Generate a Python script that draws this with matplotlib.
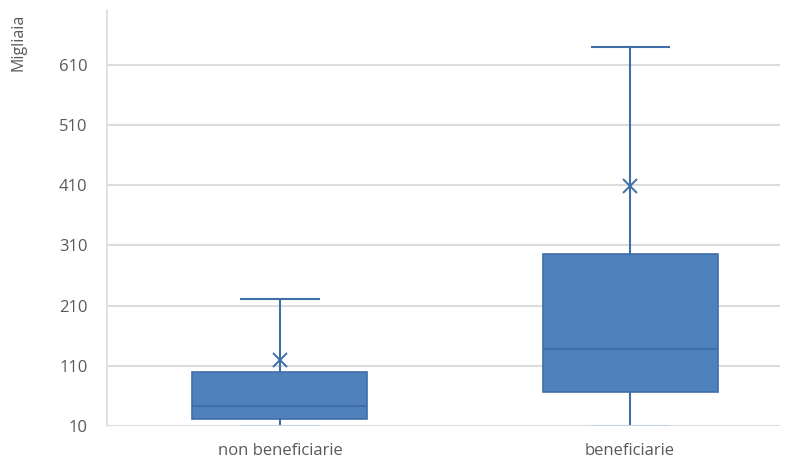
import matplotlib.pyplot as plt

# --- Data (thousands) ---
categories = ["non beneficiarie", "beneficiarie"]
whisker_low = [10, 10]
q1 = [22, 66]
median = [43, 138]
q3 = [100, 296]
whisker_high = [221, 640]
mean = [120, 409]

yticks = [10, 110, 210, 310, 410, 510, 610]

FILL = "#4f81bd"
EDGE = "#3f6ea8"
TEXT = "#595959"
GRID = "#dcdcdc"

plt.rcParams["font.family"] = ["Open Sans", "DejaVu Sans"]

stats = []
for i, c in enumerate(categories):
    stats.append({
        "label": c,
        "whislo": whisker_low[i],
        "q1": q1[i],
        "med": median[i],
        "q3": q3[i],
        "whishi": whisker_high[i],
        "mean": mean[i],
        "fliers": [],
    })

fig = plt.figure(figsize=(7.87, 4.66), dpi=100)
ax = fig.add_axes([107 / 787, 40 / 466, 673 / 787, 416 / 466])

bp = ax.bxp(stats, positions=[1, 2], widths=0.5, patch_artist=True,
            showmeans=True, meanline=False,
            boxprops=dict(facecolor=FILL, edgecolor=EDGE, linewidth=1.2),
            medianprops=dict(color=EDGE, linewidth=1.5),
            whiskerprops=dict(color=EDGE, linewidth=1.5),
            capprops=dict(color=EDGE, linewidth=1.5),
            meanprops=dict(marker="x", markeredgecolor=EDGE, markersize=10, markeredgewidth=1.4),
            capwidths=0.22, zorder=3)

# lower caps drawn pale, as in the original
for k, cap in enumerate(bp["caps"]):
    if k % 2 == 0:
        cap.set_color("#c5d0e0")

ax.set_xlim(1 - 173 / 350, 2 + 150 / 350)
ax.set_ylim(10, 701)
ax.set_yticks(yticks)
ax.set_xticks([1, 2])
ax.set_xticklabels(categories)
ax.yaxis.grid(True, color=GRID, linewidth=1.5, zorder=0)
ax.set_axisbelow(True)

for s in ["top", "right", "bottom"]:
    ax.spines[s].set_visible(False)
ax.spines["left"].set_color(GRID)
ax.spines["left"].set_linewidth(1.2)

ax.tick_params(axis="both", length=0, colors=TEXT, labelsize=12)
ax.tick_params(axis="y", pad=14)
ax.tick_params(axis="x", pad=12)

fig.text(19 / 787, 1 - 42 / 466, "Migliaia", rotation=90, color=TEXT,
         fontsize=11.5, ha="center", va="center")

fig.savefig("out.png", dpi=100)
